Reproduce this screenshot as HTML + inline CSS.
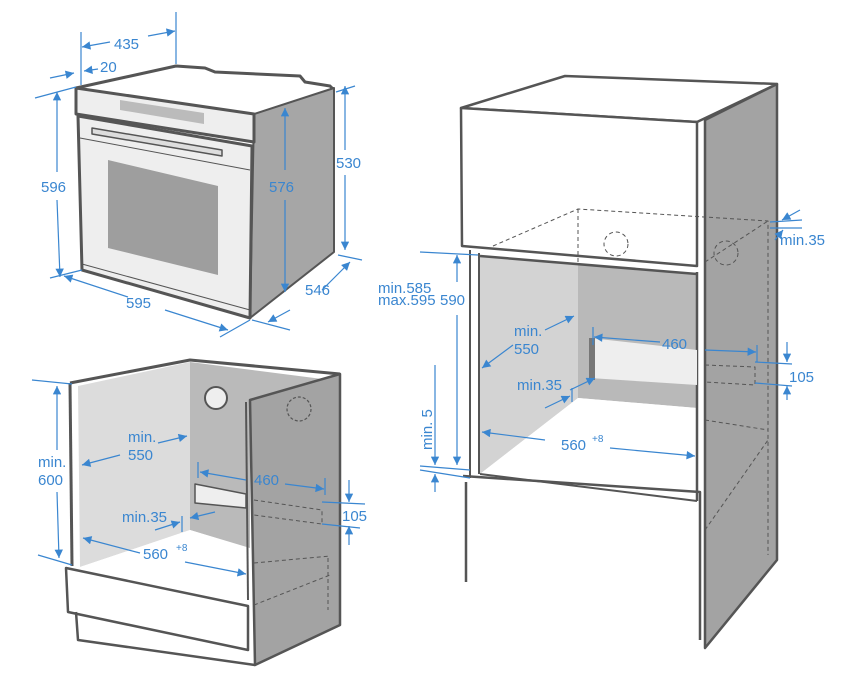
<!DOCTYPE html>
<html><head><meta charset="utf-8"><style>
html,body{margin:0;padding:0;background:#fff;}
svg{display:block;}
text{font-family:"Liberation Sans",sans-serif;font-size:15px;fill:#3a86d0;}
</style></head><body>
<svg width="856" height="688" viewBox="0 0 856 688" xmlns="http://www.w3.org/2000/svg">
<defs>
<marker id="a" viewBox="0 0 10 10" refX="10" refY="5" markerWidth="9" markerHeight="7" orient="auto-start-reverse"><path d="M0,0L10,5L0,10z" fill="#3a86d0"/></marker>
</defs>
<g stroke="#555" stroke-width="3" stroke-linejoin="round" fill="none">
<!-- OVEN -->
<path d="M76,88 L176,66 L205,68 L215,72 L300,76 L305,82 L330,86 L334,90" fill="#fff"/>
<polygon points="254,114 334,88 334,252 250,318" fill="#a6a6a6" stroke-width="2"/>
<polygon points="76,88 254,114 254,142 76,114" fill="#eee"/>
<polygon points="78,116 252,146 250,318 82,270" fill="#eee"/>
<polygon points="108,160 218,186 218,275 108,248" fill="#9e9e9e" stroke="none"/>
<polygon points="120,100 204,113 204,124 120,110" fill="#bbb" stroke="none"/>
<polygon points="92,128 222,150 222,156 92,134" fill="#ddd" stroke-width="1.5"/>
<line x1="80" y1="138" x2="250" y2="170" stroke-width="1"/>
<line x1="82" y1="264" x2="250" y2="310" stroke-width="1"/>
<!-- BOTTOM-LEFT CABINET -->
<polygon points="78,386 190,362 190,530 80,567" fill="#dcdcdc" stroke="none"/>
<polygon points="190,362 330,380 250,402 250,548 190,530" fill="#bababa" stroke="none"/>
<polygon points="80,567 190,530 248,548 248,600" fill="#fff" stroke="none"/>
<path d="M70,383 L190,360 L340,374" />
<line x1="70" y1="383" x2="72" y2="566"/>
<polygon points="250,400 340,374 340,625 255,665" fill="#a3a3a3" stroke-width="2.5"/>
<line x1="246" y1="402" x2="248" y2="600" stroke-width="2"/>
<polygon points="66,568 248,606 248,650 68,612" fill="#fff" stroke-width="2.5"/>
<polyline points="76,612 78,640 255,665" stroke-width="2.5"/>
<circle cx="216" cy="398" r="11" fill="#eee" stroke-width="2"/>
<circle cx="299" cy="409" r="12" stroke-dasharray="3,2" stroke-width="1.2"/>
<polygon points="195,484 246,494 246,508 195,503" fill="#eee" stroke-width="1.5"/>
<path d="M254,500 L322,510 L322,524 L254,515 M254,563 L330,556 M254,605 L330,575 M328,558 L328,610" stroke-width="1" stroke-dasharray="4,3"/>
<!-- RIGHT CABINET -->
<polygon points="705,120 777,84 777,560 705,648" fill="#a3a3a3" stroke-width="2.5"/>
<polygon points="461,108 565,76 777,84 697,122" fill="#fff" stroke-width="2.5"/>
<polygon points="461,108 697,122 697,266 462,246" fill="#fff" stroke-width="2.5"/>
<polygon points="480,256 578,264 578,398 480,474" fill="#d3d3d3" stroke="none"/>
<polygon points="578,264 697,274 697,408 578,398" fill="#b9b9b9" stroke="none"/>
<polygon points="480,474 578,398 697,408 697,501" fill="#fff" stroke="none"/>
<line x1="480" y1="256" x2="697" y2="274" stroke-width="2.5"/>
<line x1="479" y1="253" x2="479" y2="474" stroke-width="2"/>
<line x1="697" y1="272" x2="697" y2="501" stroke-width="2.5"/>
<line x1="470" y1="250" x2="470" y2="478" stroke-width="2"/>
<polygon points="590,338 697,350 697,385 590,378" fill="#eee" stroke="none"/>
<rect x="589" y="338" width="6" height="42" fill="#777" stroke="none"/>
<polyline points="463,476 700,492 700,640" stroke-width="2.5"/>
<line x1="466" y1="482" x2="466" y2="582" stroke-width="2.5"/>
<line x1="480" y1="474" x2="697" y2="501" stroke-width="2"/>
<g stroke-width="1" stroke-dasharray="4,3">
<path d="M493,246 L578,209 L768,221 L768,555 M578,209 L578,264 M705,262 L768,221 M705,365 L755,367 L755,385 L705,382 M705,420 L768,430 M705,530 L768,440"/>
<circle cx="616" cy="244" r="12"/><circle cx="726" cy="253" r="12"/>
</g>
</g>
<!-- DIMENSIONS -->
<g stroke="#3a86d0" stroke-width="1.2" fill="none">
<line x1="176" y1="12" x2="176" y2="64"/><line x1="81" y1="32" x2="81" y2="85"/>
<line x1="82" y1="47" x2="110" y2="42" marker-start="url(#a)"/><line x1="148" y1="36" x2="175" y2="31" marker-end="url(#a)"/>
<line x1="50" y1="78" x2="74" y2="73" marker-end="url(#a)"/><line x1="84" y1="71" x2="98" y2="69" marker-start="url(#a)"/>
<line x1="35" y1="98" x2="76" y2="87"/><line x1="50" y1="278" x2="82" y2="270"/>
<line x1="57" y1="92" x2="57" y2="172" marker-start="url(#a)"/><line x1="57" y1="200" x2="60" y2="277" marker-end="url(#a)"/>
<line x1="64" y1="276" x2="128" y2="297" marker-start="url(#a)"/><line x1="165" y1="310" x2="228" y2="330" marker-end="url(#a)"/>
<line x1="250" y1="320" x2="220" y2="337"/><line x1="252" y1="320" x2="290" y2="330"/>
<line x1="268" y1="322" x2="290" y2="310" marker-start="url(#a)"/><line x1="322" y1="290" x2="350" y2="262" marker-end="url(#a)"/>
<line x1="338" y1="255" x2="362" y2="260"/>
<line x1="285" y1="108" x2="285" y2="170" marker-start="url(#a)"/><line x1="285" y1="200" x2="285" y2="292" marker-end="url(#a)"/>
<line x1="345" y1="86" x2="345" y2="150" marker-start="url(#a)"/><line x1="345" y1="175" x2="345" y2="250" marker-end="url(#a)"/>
<line x1="336" y1="92" x2="355" y2="86"/>
<!-- bottom-left -->
<line x1="32" y1="380" x2="72" y2="384"/><line x1="38" y1="555" x2="72" y2="565"/>
<line x1="57" y1="386" x2="57" y2="450" marker-start="url(#a)"/><line x1="57" y1="492" x2="59" y2="558" marker-end="url(#a)"/>
<line x1="120" y1="455" x2="82" y2="465" marker-end="url(#a)"/><line x1="158" y1="443" x2="187" y2="436" marker-end="url(#a)"/>
<line x1="198" y1="462" x2="198" y2="478"/><line x1="325" y1="478" x2="325" y2="495"/>
<line x1="200" y1="472" x2="246" y2="480" marker-start="url(#a)"/><line x1="285" y1="484" x2="324" y2="489" marker-end="url(#a)"/>
<line x1="322" y1="502" x2="365" y2="504"/><line x1="322" y1="524" x2="360" y2="528"/>
<line x1="349" y1="480" x2="349" y2="502" marker-end="url(#a)"/><line x1="349" y1="545" x2="349" y2="526" marker-end="url(#a)"/>
<line x1="182" y1="516" x2="182" y2="532"/><line x1="155" y1="530" x2="180" y2="522" marker-end="url(#a)"/>
<line x1="215" y1="512" x2="190" y2="518" marker-end="url(#a)"/>
<line x1="140" y1="553" x2="83" y2="538" marker-end="url(#a)"/><line x1="185" y1="562" x2="246" y2="574" marker-end="url(#a)"/>
<!-- right -->
<line x1="420" y1="252" x2="478" y2="255"/><line x1="420" y1="466" x2="470" y2="470"/><line x1="420" y1="470" x2="470" y2="478"/>
<line x1="457" y1="255" x2="457" y2="282" marker-start="url(#a)"/><line x1="457" y1="315" x2="457" y2="465" marker-end="url(#a)"/>
<line x1="435" y1="365" x2="435" y2="465" marker-end="url(#a)"/><line x1="435" y1="492" x2="435" y2="474" marker-end="url(#a)"/>
<line x1="513" y1="345" x2="482" y2="368" marker-end="url(#a)"/><line x1="545" y1="330" x2="574" y2="316" marker-end="url(#a)"/>
<line x1="593" y1="327" x2="593" y2="345"/><line x1="757" y1="345" x2="757" y2="362"/>
<line x1="594" y1="337" x2="660" y2="342" marker-start="url(#a)"/><line x1="705" y1="350" x2="756" y2="352" marker-end="url(#a)"/>
<line x1="755" y1="362" x2="792" y2="364"/><line x1="755" y1="383" x2="792" y2="386"/>
<line x1="787" y1="342" x2="787" y2="362" marker-end="url(#a)"/><line x1="787" y1="400" x2="787" y2="386" marker-end="url(#a)"/>
<line x1="570" y1="390" x2="595" y2="378" marker-end="url(#a)"/>
<line x1="545" y1="408" x2="570" y2="396" marker-end="url(#a)"/><line x1="572" y1="388" x2="572" y2="402"/>
<line x1="545" y1="440" x2="482" y2="432" marker-end="url(#a)"/><line x1="610" y1="448" x2="695" y2="456" marker-end="url(#a)"/>
<line x1="770" y1="222" x2="802" y2="220"/><line x1="770" y1="228" x2="802" y2="228"/>
<line x1="800" y1="210" x2="782" y2="220" marker-end="url(#a)"/><line x1="775" y1="240" x2="783" y2="230" marker-end="url(#a)"/>
</g>
<text x="114" y="49">435</text>
<text x="100" y="72">20</text>
<text x="41" y="192">596</text>
<text x="126" y="308">595</text>
<text x="269" y="192">576</text>
<text x="336" y="168">530</text>
<text x="305" y="295">546</text>
<text x="38" y="467">min.</text><text x="38" y="485">600</text>
<text x="128" y="442">min.</text><text x="128" y="460">550</text>
<text x="254" y="485">460</text>
<text x="342" y="521">105</text>
<text x="122" y="522">min.35</text>
<text x="143" y="559">560</text><text x="176" y="551" style="font-size:10px">+8</text>
<text x="378" y="293">min.585</text><text x="378" y="305" >max.595</text>
<text x="440" y="305">590</text>
<text x="514" y="336">min.</text><text x="514" y="354">550</text>
<text x="662" y="349">460</text>
<text x="789" y="382">105</text>
<text x="517" y="390">min.35</text>
<text x="561" y="450">560</text><text x="592" y="442" style="font-size:10px">+8</text>
<text x="780" y="245">min.35</text>
<text x="0" y="0" transform="translate(432,450) rotate(-90)">min. 5</text>
</svg>
</body></html>
